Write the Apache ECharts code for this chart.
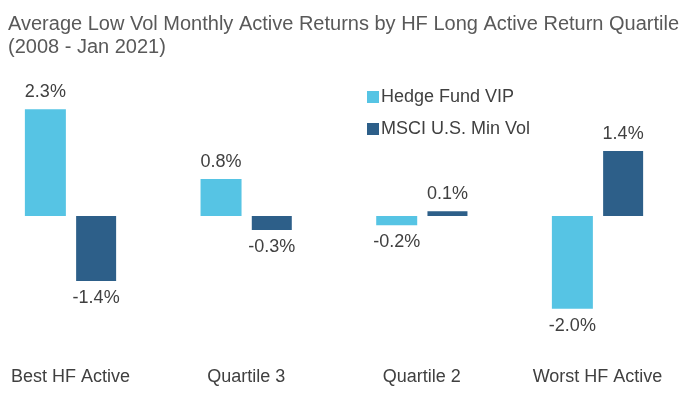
<!DOCTYPE html>
<html><head><meta charset="utf-8">
<script src="https://cdn.jsdelivr.net/npm/echarts@6/dist/echarts.min.js"></script>
<style>html,body{margin:0;padding:0;background:#fff}#c{width:698px;height:400px}</style>
</head><body><div id="c"></div>
<script>
const categories = ['Best HF Active', 'Quartile 3', 'Quartile 2', 'Worst HF Active'];
const hedgeFundVIP = [2.3, 0.8, -0.2, -2.0];
const msciMinVol = [-1.4, -0.3, 0.1, 1.4];
const seriesNames = ['Hedge Fund VIP', 'MSCI U.S. Min Vol'];
const titleLines = ['Average Low Vol Monthly Active Returns by HF Long Active Return Quartile', '(2008 - Jan 2021)'];

const FONT = 'Liberation Sans, Arial, sans-serif';
const chart = echarts.init(document.getElementById('c'));
function mkLabel(v){
  return {
    show: true,
    position: v >= 0 ? 'top' : 'bottom',
    distance: 8,
    formatter: p => p.value.toFixed(1) + '%',
    fontSize: 18, color: '#404040', fontFamily: FONT
  };
}
function mkData(arr){ return arr.map(v => ({value: v, label: mkLabel(v)})); }
chart.setOption({
  animation: false,
  title: {
    text: titleLines.join('\n'), left: 3, top: 8,
    textStyle: {fontSize: 20, fontWeight: 'normal', color: '#595959', fontFamily: FONT, lineHeight: 23}
  },
  legend: {
    orient: 'vertical', left: 362, top: 83, itemWidth: 12, itemHeight: 12, itemGap: 14,
    icon: 'rect',
    textStyle: {fontSize: 18, color: '#404040', fontFamily: FONT, padding: [0,0,0,-3]},
    data: seriesNames
  },
  grid: {left: 70.5, right: 100.5, top: 100, bottom: 68, containLabel: false},
  xAxis: {
    type: 'category', data: categories, boundaryGap: false,
    axisLine: {show: false, onZero: false}, axisTick: {show: false},
    axisLabel: {fontSize: 18, color: '#404040', fontFamily: FONT, margin: 36}
  },
  yAxis: {type: 'value', min: -2.5, max: 2.5, show: false, splitLine: {show: false}},
  series: [
    {name: seriesNames[0], type: 'bar', data: mkData(hedgeFundVIP), barWidth: 41, barGap: '25%',
     itemStyle: {color: '#56C4E4'}},
    {name: seriesNames[1], type: 'bar', data: mkData(msciMinVol), barWidth: 40,
     itemStyle: {color: '#2D5F89'}}
  ]
});
</script></body></html>
